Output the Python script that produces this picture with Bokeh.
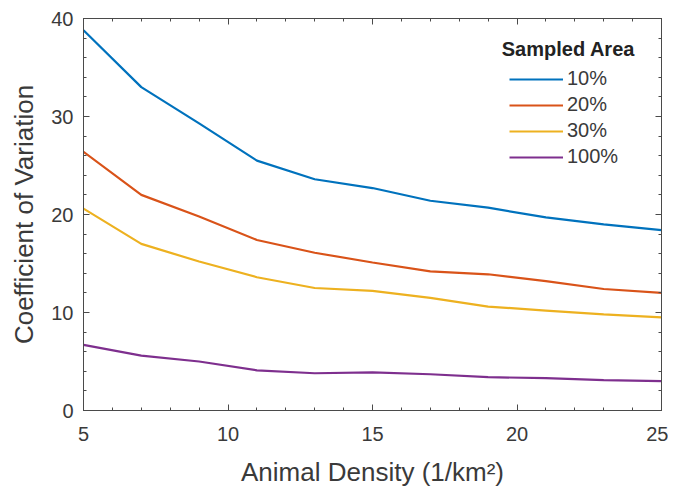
from bokeh.plotting import figure
from bokeh.models import (Range1d, LinearAxis, SingleIntervalTicker, Legend, LegendItem, Label,
                          CustomJSTickFormatter)
from bokeh.embed import file_html
from bokeh.resources import INLINE

density = [5, 7, 9, 11, 13, 15, 17, 19, 21, 23, 25]
cv_10 = [38.8, 33.0, 29.3, 25.5, 23.6, 22.7, 21.4, 20.7, 19.7, 19.0, 18.4]
cv_20 = [26.4, 22.0, 19.8, 17.4, 16.1, 15.1, 14.2, 13.9, 13.2, 12.4, 12.0]
cv_30 = [20.6, 17.0, 15.2, 13.6, 12.5, 12.2, 11.5, 10.6, 10.2, 9.8, 9.5]
cv_100 = [6.7, 5.6, 5.0, 4.1, 3.8, 3.9, 3.7, 3.4, 3.3, 3.1, 3.0]
labels = ["10%", "20%", "30%", "100%"]
colors = ["#0072BD", "#D95319", "#EDB120", "#7E2F8E"]

FONT = "Liberation Sans"
AX = "#4a4a4a"
TXT = "#3a3a3a"

p = figure(width=668, height=489, output_backend="svg", toolbar_location=None,
           x_range=Range1d(5, 25), y_range=Range1d(0, 40),
           min_border_left=83, min_border_right=7, min_border_top=18, min_border_bottom=79,
           background_fill_color="white", border_fill_color="white")
p.grid.visible = False
p.outline_line_color = AX
p.outline_line_width = 1

xt = SingleIntervalTicker(interval=5, num_minor_ticks=5)
yt = SingleIntervalTicker(interval=10, num_minor_ticks=5)

def style(ax, show_labels=True):
    ax.axis_line_color = AX
    ax.major_tick_line_color = AX
    ax.minor_tick_line_color = AX
    ax.major_tick_in = 6
    ax.major_tick_out = 0
    ax.minor_tick_in = 3
    ax.minor_tick_out = 0
    if show_labels:
        ax.major_label_text_font = FONT
        ax.major_label_text_font_size = "20px"
        ax.major_label_text_color = TXT
        ax.axis_label_text_font = FONT
        ax.axis_label_text_font_size = "26px"
        ax.axis_label_text_font_style = "normal"
        ax.axis_label_text_color = TXT
    else:
        ax.formatter = CustomJSTickFormatter(code="return ''")
        ax.major_label_standoff = 0

p.xaxis.ticker = xt
p.yaxis.ticker = yt
style(p.xaxis[0])
style(p.yaxis[0])
p.xaxis.axis_label = "Animal Density (1/km²)"
p.yaxis.axis_label = "Coefficient of Variation"
p.xaxis.major_label_standoff = 16
p.xaxis.axis_label_standoff = 13
p.yaxis.major_label_standoff = 10
p.yaxis.axis_label_standoff = 9

top = LinearAxis(ticker=SingleIntervalTicker(interval=5, num_minor_ticks=5))
style(top, False)
p.add_layout(top, "above")
right = LinearAxis(ticker=SingleIntervalTicker(interval=10, num_minor_ticks=5))
style(right, False)
p.add_layout(right, "right")

series = [cv_10, cv_20, cv_30, cv_100]
items = []
for lab, col, ys in zip(labels, colors, series):
    r = p.line(density, ys, line_color=col, line_width=2.2)
    items.append(LegendItem(label=lab, renderers=[r]))

legend = Legend(items=items, location=(426, 242), padding=0, margin=0,
                border_line_color=None, background_fill_alpha=0,
                label_text_font=FONT, label_text_font_size="20px", label_text_color=TXT,
                glyph_width=54, glyph_height=22, label_height=22, spacing=3,
                label_standoff=4)
p.add_layout(legend, "center")

title = Label(x=21.78, y=36.9, text="Sampled Area", text_font=FONT,
              text_font_size="20px", text_font_style="bold", text_color="#222222",
              text_align="center", text_baseline="middle")
p.add_layout(title)

open("out.html", "w").write(file_html(p, INLINE))
